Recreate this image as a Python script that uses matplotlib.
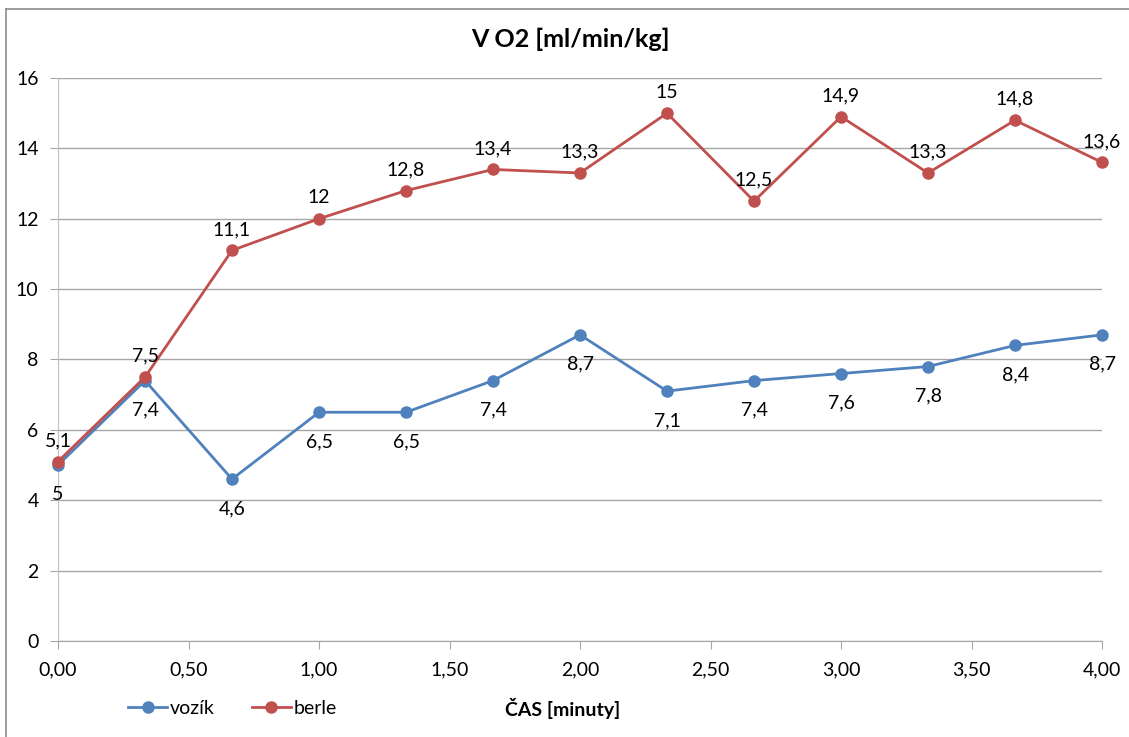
import matplotlib.pyplot as plt
from matplotlib.lines import Line2D

plt.rcParams['font.family'] = ['Lato', 'DejaVu Sans']

# čas v minutách (měření po 20 s)
cas = [0, 1/3, 2/3, 1, 4/3, 5/3, 2, 7/3, 8/3, 3, 10/3, 11/3, 4]
vozik = [5, 7.4, 4.6, 6.5, 6.5, 7.4, 8.7, 7.1, 7.4, 7.6, 7.8, 8.4, 8.7]
berle = [5.1, 7.5, 11.1, 12, 12.8, 13.4, 13.3, 15, 12.5, 14.9, 13.3, 14.8, 13.6]

modra = '#4F81BD'
cervena = '#C0504D'


def fmt(v):
    s = ('%g' % v).replace('.', ',')
    return s


fig = plt.figure(figsize=(11.29, 7.37), dpi=100)
ax = fig.add_axes([0.0514, 0.1303, 0.9247, 0.7639])

ax.plot(cas, vozik, '-o', color=modra, lw=2.0, ms=8, label='vozík', zorder=3, clip_on=False)
ax.plot(cas, berle, '-o', color=cervena, lw=2.0, ms=8, label='berle', zorder=3, clip_on=False)

for x, v in zip(cas, vozik):
    ax.annotate(fmt(v), (x, v), xytext=(0, -15), textcoords='offset points',
                ha='center', va='top', fontsize=14, color='black')
for x, v in zip(cas, berle):
    ax.annotate(fmt(v), (x, v), xytext=(0, 9), textcoords='offset points',
                ha='center', va='bottom', fontsize=14, color='black')

ax.set_xlim(0, 4)
ax.set_ylim(0, 16)
ax.set_yticks(range(0, 17, 2))
ax.set_xticks([0, 0.5, 1, 1.5, 2, 2.5, 3, 3.5, 4])
ax.set_xticklabels(['0,00', '0,50', '1,00', '1,50', '2,00', '2,50', '3,00', '3,50', '4,00'])
ax.grid(axis='y', color='#a6a6a6', lw=1.0)
ax.set_axisbelow(True)
for s in ['top', 'right']:
    ax.spines[s].set_visible(False)
ax.spines['left'].set_color('#bfbfbf')
ax.spines['bottom'].set_color('#a6a6a6')
ax.tick_params(axis='y', length=6, color='#a6a6a6', labelsize=14, pad=8)
ax.tick_params(axis='x', length=6, color='#a6a6a6', labelsize=14, pad=9)

fig.text(0.505, 0.946, 'V O2 [ml/min/kg]', ha='center', va='center',
         fontsize=18, fontweight='bold')
fig.text(0.498, 0.039, 'ČAS [minuty]', ha='center', va='center',
         fontsize=14, fontweight='bold')

handles = [Line2D([], [], color=modra, marker='o', lw=2.0, ms=8),
           Line2D([], [], color=cervena, marker='o', lw=2.0, ms=8)]
fig.legend(handles, ['vozík', 'berle'], loc='center left',
           bbox_to_anchor=(0.098, 0.039), ncol=2, frameon=False,
           fontsize=14, handlelength=2.0, handletextpad=0.15, columnspacing=1.9)

# rámeček grafu (vlevo a nahoře)
fig.add_artist(Line2D([0.0053, 0.0053], [0, 0.988], color='#8c8c8c', lw=1.2))
fig.add_artist(Line2D([0.0053, 1], [0.988, 0.988], color='#8c8c8c', lw=1.2))

fig.savefig('out.png', dpi=100)
